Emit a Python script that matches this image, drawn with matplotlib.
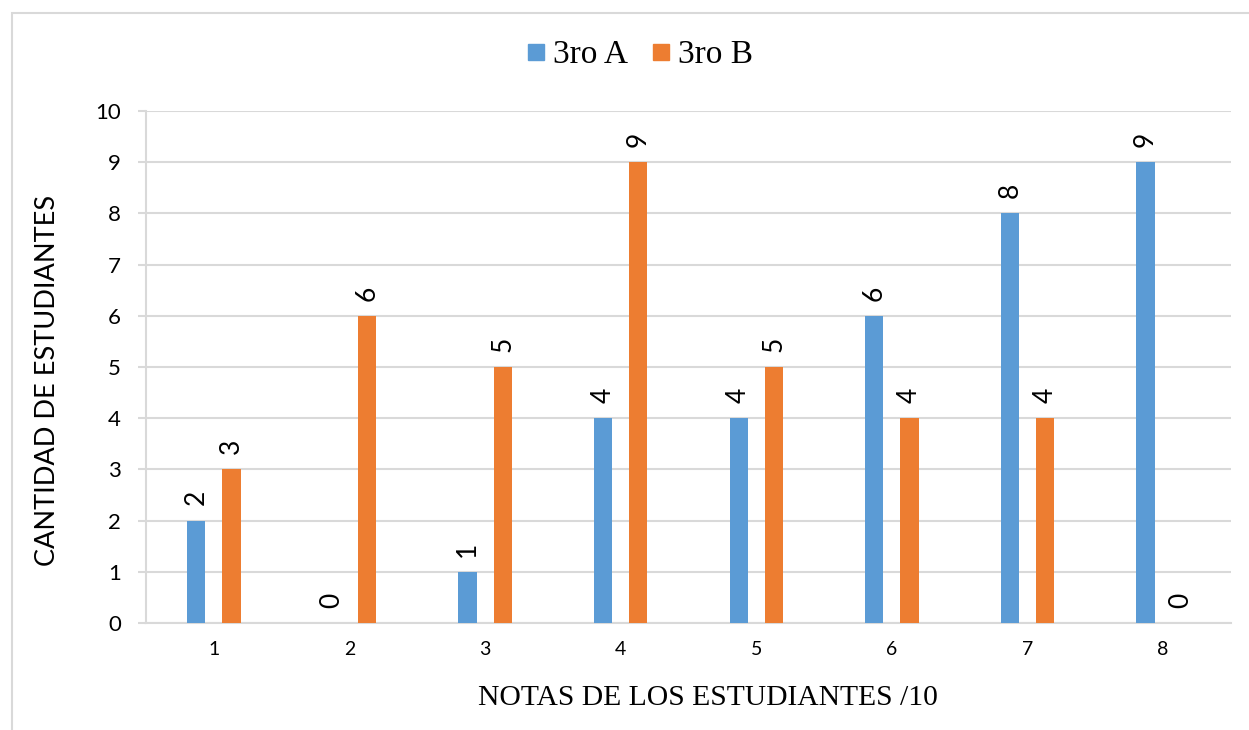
import numpy as np
import matplotlib.pyplot as plt
from matplotlib.patches import Rectangle
from matplotlib.lines import Line2D

notas = ["1", "2", "3", "4", "5", "6", "7", "8"]
tercero_a = [2, 0, 1, 4, 4, 6, 8, 9]
tercero_b = [3, 6, 5, 9, 5, 4, 4, 0]

azul = "#5B9BD5"
naranja = "#ED7D31"
gris = "#D9D9D9"

sans = ["Lato", "DejaVu Sans"]
serif = ["Liberation Serif", "DejaVu Serif"]

fig = plt.figure(figsize=(12.49, 7.30), dpi=100)
W, H = 1249, 730

# borde del area del grafico
fig.patches.append(Rectangle((12 / W, -0.1), 1.2, (730 - 13) / H + 0.1,
                             transform=fig.transFigure, fill=False,
                             edgecolor=gris, linewidth=1.5))

ax = fig.add_axes([146 / W, (730 - 623) / H, 1085 / W, 512 / H])

x = np.arange(len(notas))
ancho = 0.135
sep = 0.13
b1 = ax.bar(x - sep, tercero_a, ancho, color=azul, label="3ro A", zorder=3)
b2 = ax.bar(x + sep, tercero_b, ancho, color=naranja, label="3ro B", zorder=3)

for barras, vals in ((b1, tercero_a), (b2, tercero_b)):
    for r, v in zip(barras, vals):
        ax.annotate(str(v), (r.get_x() + r.get_width() / 2, v),
                    xytext=(0, 11), textcoords="offset points",
                    rotation=90, ha="center", va="bottom",
                    fontsize=19, family=sans)

ax.set_xlim(-0.5, len(notas) - 0.5)
ax.set_ylim(0, 10)
ax.set_yticks(range(0, 11))
ax.set_xticks(x)
ax.set_xticklabels(notas, family=sans, fontsize=14)
ax.tick_params(axis="x", length=0, pad=13)
ax.tick_params(axis="y", length=6, color=gris, width=1.5, pad=12, labelsize=16)
for t in ax.get_yticklabels():
    t.set_family(sans)

ax.grid(axis="y", color=gris, linewidth=1.5, zorder=0)
for s in ("top", "right"):
    ax.spines[s].set_visible(False)
for s in ("left", "bottom"):
    ax.spines[s].set_color(gris)
    ax.spines[s].set_linewidth(1.5)

ax.set_ylabel("CANTIDAD DE ESTUDIANTES", family=sans, fontsize=19.5)
ax.yaxis.set_label_coords(-0.079, 0.473)
ax.set_xlabel("NOTAS DE LOS ESTUDIANTES /10", family=serif, fontsize=21.3)
ax.xaxis.set_label_coords(0.518, -0.121)

marcas = [Line2D([], [], marker="s", linestyle="", markersize=12, color=azul),
          Line2D([], [], marker="s", linestyle="", markersize=12, color=naranja)]
fig.legend(handles=marcas, labels=["3ro A", "3ro B"], loc="center",
           bbox_to_anchor=(640 / W, 1 - 55 / H),
           ncol=2, frameon=False, prop={"family": serif, "size": 24},
           handlelength=0.5, handletextpad=0.27, columnspacing=0.73)

fig.savefig("out.png", dpi=100)
